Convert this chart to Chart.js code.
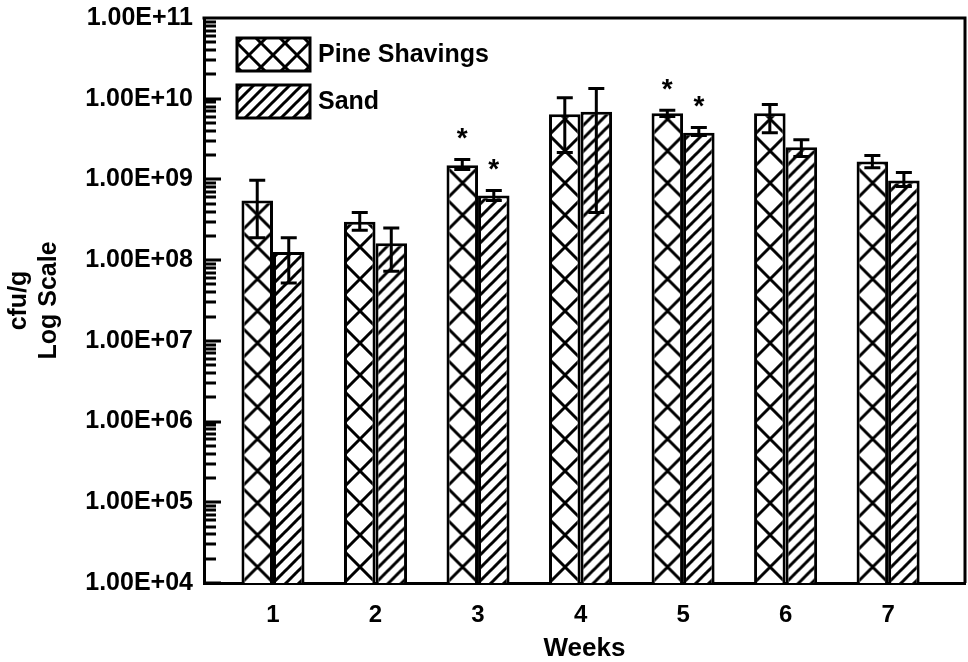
<!DOCTYPE html>
<html>
<head>
<meta charset="utf-8">
<script src="https://cdn.jsdelivr.net/npm/chart.js@4"></script>
<style>
  html, body { margin: 0; padding: 0; background: #fff; }
  #wrap { width: 968px; height: 662px; }
</style>
</head>
<body>
<div id="wrap"><canvas id="chart" width="968" height="662"></canvas></div>
<script>
/* ---------- data ---------- */
const weeks = [1, 2, 3, 4, 5, 6, 7];
const seriesNames = ["Pine Shavings", "Sand"];

const pine   = [5.5e8, 3.0e8, 1.5e9, 6.4e9, 6.6e9, 6.6e9, 1.67e9];
const pineHi = [9.8e8, 3.9e8, 1.77e9, 1.03e10, 7.2e9, 8.5e9, 1.98e9];
const pineLo = [1.9e8, 2.35e8, 1.33e9, 2.16e9, 6.0e9, 3.8e9, 1.4e9];

const sand   = [1.26e8, 1.62e8, 6.3e8, 6.9e9, 3.8e9, 2.5e9, 0.97e9];
const sandHi = [1.9e8, 2.5e8, 7.3e8, 1.34e10, 4.4e9, 3.1e9, 1.22e9];
const sandLo = [5.2e7, 7.3e7, 5.5e8, 3.9e8, 3.5e9, 1.93e9, 0.82e9];

// asterisks (significant difference)
const pineSig = [false, false, true, false, true, false, false];
const sandSig = [false, false, true, false, true, false, false];

const yTicks = [1e4, 1e5, 1e6, 1e7, 1e8, 1e9, 1e10, 1e11];

/* ---------- helpers ---------- */
const FONT = "'Liberation Sans', Arial, sans-serif";
Chart.defaults.font.family = FONT;
Chart.defaults.font.weight = "bold";
Chart.defaults.color = "#000";

function tile(size, drawFn) {
  const c = document.createElement("canvas");
  c.width = size;
  c.height = size;
  const g = c.getContext("2d");
  g.fillStyle = "#fff";
  g.fillRect(0, 0, size, size);
  g.strokeStyle = "#000";
  g.lineWidth = 3;
  g.lineCap = "square";
  drawFn(g, size);
  return c;
}

// diamond crosshatch
function diamondTile(size) {
  return tile(size, (g, s) => {
    g.beginPath();
    g.moveTo(-2, -2); g.lineTo(s + 2, s + 2);
    g.moveTo(s + 2, -2); g.lineTo(-2, s + 2);
    g.stroke();
  });
}
// "/" hatch
function hatchTile(size) {
  return tile(size, (g, s) => {
    g.beginPath();
    g.moveTo(-2, s + 2); g.lineTo(s + 2, -2);
    g.moveTo(-2 - s, s + 2); g.lineTo(2, -2);
    g.moveTo(s - 2, s + 2); g.lineTo(2 * s + 2, -2);
    g.stroke();
  });
}

const ctxMain = document.getElementById("chart").getContext("2d");
const tiles = [diamondTile(32), hatchTile(13)];
const legendTiles = [diamondTile(24), hatchTile(12)];

function barFill(di) {
  return (c) => {
    const pat = ctxMain.createPattern(tiles[di], "repeat");
    if (c.type !== "data") return pat;
    const xs = c.chart.scales.x, ys = c.chart.scales.y;
    if (!xs || !ys) return pat;
    const unit = xs.getPixelForValue(2) - xs.getPixelForValue(1);
    const w = unit * 0.615 / 2;
    const cx = xs.getPixelForValue(weeks[c.dataIndex]);
    const left = di === 0 ? cx - w : cx;
    pat.setTransform(new DOMMatrix().translate(left, ys.bottom));
    return pat;
  };
}

function fmtExp(v) {
  const e = Math.round(Math.log10(v));
  return "1.00E+" + String(e).padStart(2, "0");
}

/* ---------- custom drawing ---------- */
const extras = {
  id: "extras",
  afterDatasetsDraw(chart) {
    const { ctx, chartArea: a, scales: { y } } = chart;
    const lists = [[pineHi, pineLo, pineSig], [sandHi, sandLo, sandSig]];
    ctx.save();
    ctx.strokeStyle = "#000";
    ctx.lineWidth = 3;
    lists.forEach(([hi, lo, sig], di) => {
      const meta = chart.getDatasetMeta(di);
      meta.data.forEach((bar, i) => {
        const yt = y.getPixelForValue(hi[i]);
        const yb = y.getPixelForValue(lo[i]);
        ctx.beginPath();
        ctx.moveTo(bar.x, yt); ctx.lineTo(bar.x, yb);
        ctx.moveTo(bar.x - 8, yt); ctx.lineTo(bar.x + 8, yt);
        ctx.moveTo(bar.x - 8, yb); ctx.lineTo(bar.x + 8, yb);
        ctx.stroke();
        if (sig[i]) {
          ctx.fillStyle = "#000";
          ctx.font = "bold 28px " + FONT;
          ctx.textAlign = "center";
          ctx.textBaseline = "middle";
          ctx.fillText("*", bar.x, yt - 20);
        }
      });
    });

    // inward log ticks on left axis
    ctx.beginPath();
    for (let d = 1e4; d < 1e11; d *= 10) {
      for (let m = 1; m < 10; m++) {
        const py = Math.round(y.getPixelForValue(d * m));
        const len = m === 1 ? 17 : 12;
        ctx.moveTo(a.left, py); ctx.lineTo(a.left + len, py);
      }
    }
    ctx.stroke();

    // frame top & right
    ctx.beginPath();
    ctx.moveTo(a.left - 1.5, a.top); ctx.lineTo(a.right, a.top); ctx.lineTo(a.right, a.bottom);
    ctx.stroke();

    // legend
    ctx.font = "bold 25px " + FONT;
    ctx.textAlign = "left";
    ctx.textBaseline = "middle";
    seriesNames.forEach((name, di) => {
      const bx = 237, by = 38 + di * 47, bw = 73, bh = 33;
      const pat = ctx.createPattern(legendTiles[di], "repeat");
      pat.setTransform(new DOMMatrix().translate(bx, by + 5));
      ctx.fillStyle = pat;
      ctx.fillRect(bx, by, bw, bh);
      ctx.strokeRect(bx, by, bw, bh);
      ctx.fillStyle = "#000";
      ctx.fillText(name, bx + 81, by + bh / 2 + 1);
    });
    ctx.restore();
  }
};

/* ---------- chart ---------- */
new Chart(ctxMain, {
  type: "bar",
  data: {
    datasets: [
      {
        label: seriesNames[0],
        data: weeks.map((w, i) => ({ x: w, y: pine[i] })),
        backgroundColor: barFill(0),
        borderColor: "#000",
        borderWidth: 3,
        categoryPercentage: 0.615,
        barPercentage: 1,
      },
      {
        label: seriesNames[1],
        data: weeks.map((w, i) => ({ x: w, y: sand[i] })),
        backgroundColor: barFill(1),
        borderColor: "#000",
        borderWidth: 3,
        categoryPercentage: 0.615,
        barPercentage: 1,
      },
    ],
  },
  options: {
    responsive: false,
    animation: false,
    layout: { padding: { top: 12, right: 3, left: 0, bottom: 0 } },
    plugins: { legend: { display: false }, tooltip: { enabled: false } },
    scales: {
      x: {
        type: "linear",
        offset: false,
        min: 0.327,
        max: 7.75,
        afterBuildTicks: (s) => { s.ticks = weeks.map((v) => ({ value: v })); },
        afterFit: (s) => { s.height = 79; },
        grid: { display: false },
        border: { display: true, width: 3, color: "#000" },
        ticks: { font: { size: 24, weight: "bold" }, padding: 10, callback: (v) => String(v) },
        title: { display: true, text: "Weeks", font: { size: 26, weight: "bold" }, padding: { top: 4, bottom: -2 } },
      },
      y: {
        type: "logarithmic",
        min: 1e4,
        max: 1e11,
        afterBuildTicks: (s) => { s.ticks = yTicks.map((v) => ({ value: v, major: true })); },
        afterFit: (s) => { s.width = 204; },
        grid: { display: false },
        border: { display: true, width: 3, color: "#000" },
        ticks: { font: { size: 25, weight: "bold" }, padding: 3, callback: (v) => fmtExp(v) },
        title: {
          display: true,
          text: ["cfu/g", "Log Scale"],
          font: { size: 25, weight: "bold" },
          padding: { top: 4 },
        },
      },
    },
  },
  plugins: [extras],
});
</script>
</body>
</html>
